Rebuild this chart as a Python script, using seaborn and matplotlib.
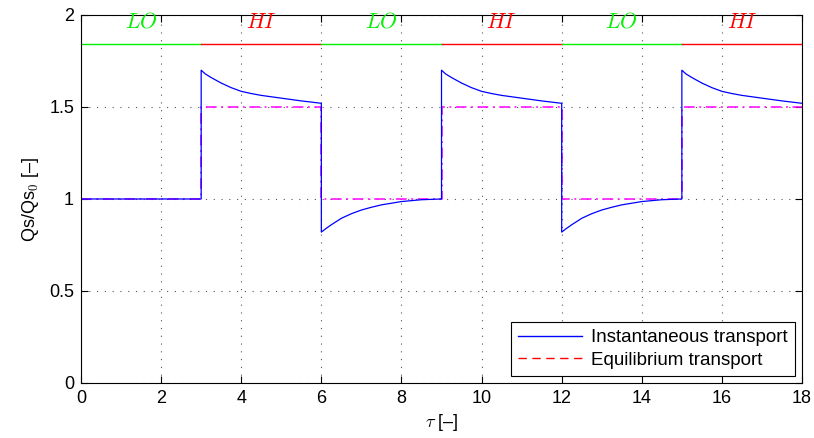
import numpy as np
import pandas as pd
import matplotlib
matplotlib.use("Agg")
import matplotlib.pyplot as plt
import seaborn as sns
from matplotlib.lines import Line2D

# Phasen (Abflussregime) und Gleichgewichtsniveaus
phase_labels = ["LO", "HI", "LO", "HI", "LO", "HI"]
phase_start = [0, 3, 6, 9, 12, 15]
phase_len = 3
eq_level = [1.0, 1.5, 1.0, 1.5, 1.0, 1.5]

# Verlauf innerhalb einer Phase
seg_offsets = [0, 0.1, 0.25, 0.5, 0.75, 1.0, 1.25, 1.5, 2.0, 2.5, 3.0]
hi_values = [1.70, 1.68, 1.66, 1.63, 1.605, 1.585, 1.573, 1.563, 1.548, 1.533, 1.52]
lo_values = [0.82, 0.837, 0.86, 0.895, 0.92, 0.94, 0.955, 0.968, 0.986, 0.996, 1.0]
first_lo_values = [1.0] * len(seg_offsets)

bar_level = 1.842
label_level = 1.93

# Datenreihen zusammensetzen
rows = []
for i, (s, lab) in enumerate(zip(phase_start, phase_labels)):
    if i == 0:
        vals = first_lo_values
    elif lab == "HI":
        vals = hi_values
    else:
        vals = lo_values
    for o, v in zip(seg_offsets, vals):
        rows.append({"tau": s + o, "qs": v})
inst = pd.DataFrame(rows)

eq_rows = []
for s, lv in zip(phase_start, eq_level):
    eq_rows.append({"tau": s, "qs": lv})
    eq_rows.append({"tau": s + phase_len, "qs": lv})
eq = pd.DataFrame(eq_rows)

plt.rcParams["font.family"] = ["Liberation Sans", "DejaVu Sans"]
plt.rcParams["mathtext.fontset"] = "cm"

fig, ax = plt.subplots(figsize=(8.14, 4.38), dpi=100)
fig.subplots_adjust(left=0.0995, right=0.9853, top=0.9658, bottom=0.1256)

sns.lineplot(data=eq, x="tau", y="qs", ax=ax, color="#ff00ff", lw=1.1,
             linestyle=(0, (7, 3, 1.2, 3)), sort=False, estimator=None)
sns.lineplot(data=inst, x="tau", y="qs", ax=ax, color="#0000ff", lw=0.9,
             sort=False, estimator=None)

# Regime-Balken oben
for s, lab in zip(phase_start, phase_labels):
    col = "#00ee00" if lab == "LO" else "#ff0000"
    ax.plot([s, s + phase_len], [bar_level, bar_level], color=col, lw=1.0)
    ax.text(s + phase_len / 2, label_level, r"$\mathit{" + lab + "}$", color=col,
            ha="center", va="baseline", fontsize=15.5)

ax.set_xlim(0, 18)
ax.set_ylim(0, 2)
ax.set_xticks(np.arange(0, 19, 2))
ax.set_yticks([0, 0.5, 1, 1.5, 2])
ax.set_yticklabels(["0", "0.5", "1", "1.5", "2"])
ax.grid(True, color="#555555", linestyle=(0, (1, 6)), lw=0.8)
ax.tick_params(direction="in", labelsize=13, length=5, top=True, right=True,
               labeltop=False, labelright=False, pad=5)
for sp in ax.spines.values():
    sp.set_color("black")
    sp.set_linewidth(0.8)

ax.set_xlabel(r"$\tau$ [–]", fontsize=13, labelpad=4)
ax.set_ylabel(r"Qs/Qs$_\mathsf{0}$ [–]", fontsize=13, labelpad=6)

handles = [Line2D([], [], color="#0000ff", lw=1.0),
           Line2D([], [], color="#ff0000", lw=1.0, linestyle=(0, (6, 4)))]
leg = ax.legend(handles, ["Instantaneous transport", "Equilibrium transport"],
                loc="lower right", fontsize=13.5, fancybox=False, framealpha=1,
                edgecolor="black", borderaxespad=0.35, handlelength=3.4,
                borderpad=0.4, labelspacing=0.3, handletextpad=0.5)
leg.get_frame().set_linewidth(0.8)

fig.savefig("out.png", dpi=100)
